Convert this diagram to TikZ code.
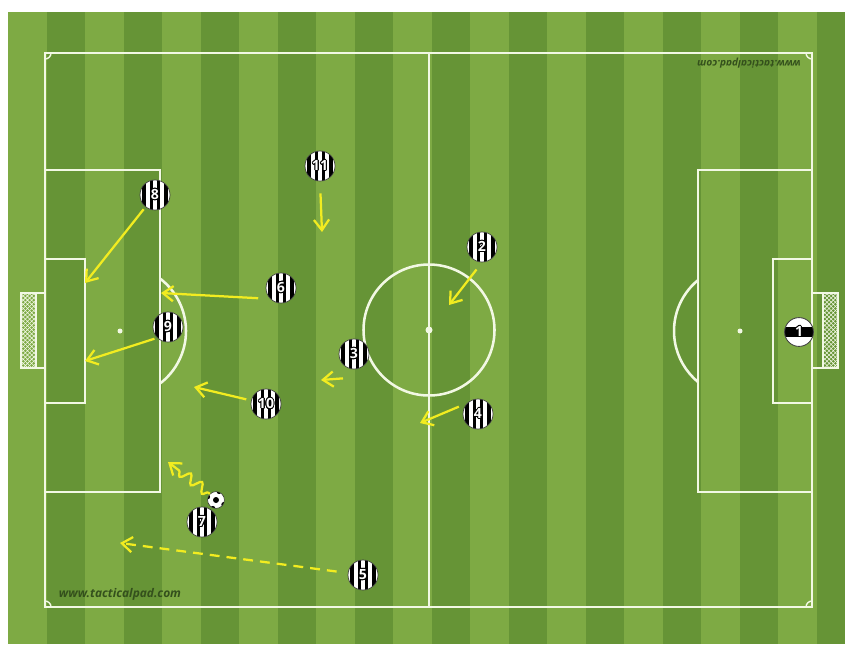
\documentclass[tikz,border=0pt]{standalone}
\usepackage{fontspec}
\setsansfont{Open Sans}
\usepackage{contour}
\usetikzlibrary{arrows.meta,calc,decorations.pathmorphing,patterns}
\definecolor{grasslight}{RGB}{126,170,68}
\definecolor{grassdark}{RGB}{102,148,54}
\definecolor{chalk}{RGB}{242,248,228}
\definecolor{runyellow}{RGB}{242,236,32}
\definecolor{wmgreen}{RGB}{52,80,28}
\contourlength{0.6pt}

\begin{document}
\begin{tikzpicture}[x=0.025cm, y=-0.025cm,
    line/.style={draw=chalk, line width=1.8pt},
    player/.style={circle, draw=black!75, line width=0.5pt, fill=white, minimum size=0.75cm, inner sep=0pt, text=white, font=\sffamily\bfseries\fontsize{10}{10}\selectfont,
        path picture={\foreach \k in {-3,-1,1,3} \fill[black] ($(path picture bounding box.center)+(\k*3.6-1.8,-20)$) rectangle ++(3.6,40);}},
    keeper/.style={circle, draw=black!75, line width=0.6pt, fill=white, minimum size=0.72cm, inner sep=0pt, text=white, font=\sffamily\bfseries\fontsize{10}{10}\selectfont,
        path picture={\fill[black] ($(path picture bounding box.center)+(-20,-5)$) rectangle ++(40,10);}},
    ball/.style={circle, draw=black!80, line width=0.4pt, fill=white, minimum size=0.42cm, inner sep=0pt,
        path picture={\fill[black] (path picture bounding box.center) circle[radius=3];
            \foreach \a in {30,110,200,290} \fill[black] ($(path picture bounding box.center)+(\a:9)$) circle[radius=2.5];}},
    run/.style={draw=runyellow, line width=1.6pt, -{Straight Barb[length=2.6mm,width=3.8mm]}},
    wmark/.style={text=wmgreen, inner sep=0pt},
]
\useasboundingbox (0,0) rectangle (845,644);

% Grass
\begin{scope}
\clip (8,12) rectangle (845,644);
\foreach \i in {0,...,21} {
    \ifodd\i \def\stripe{grassdark}\else\def\stripe{grasslight}\fi
    \fill[\stripe] (8+\i*38.5,12) rectangle ++(38.5,632);
}
\end{scope}

% Pitch markings
\draw[line] (45,53) rectangle (812,607);
\draw[line] (429,53) -- (429,607);
\draw[line] (429,330) circle[radius=65.5];
\fill[chalk] (429,330) circle[radius=3.5];
\draw[line] (45,170) rectangle (160,492);
\draw[line] (45,259) rectangle (85,403);
\fill[chalk] (120,331) circle[radius=2.5];
\draw[line] (160,278.5) arc[start angle=-52.7, end angle=52.7, radius=66];
\draw[line] (698,170) rectangle (812,492);
\draw[line] (773,259) rectangle (812,403);
\fill[chalk] (740,331) circle[radius=2.5];
\draw[line] (698,280.1) arc[start angle=230.5, end angle=129.5, radius=66];
\draw[chalk, line width=1pt] (51,53) arc[start angle=0, end angle=90, radius=6];
\draw[chalk, line width=1pt] (806,53) arc[start angle=180, end angle=90, radius=6];
\draw[chalk, line width=1pt] (45,601) arc[start angle=-90, end angle=0, radius=6];
\draw[chalk, line width=1pt] (806,607) arc[start angle=180, end angle=270, radius=6];

% Goals
\draw[chalk, line width=0.8pt, pattern=crosshatch, pattern color=chalk] (21,293) rectangle (36,368);
\draw[chalk, line width=1pt] (36,293) -- (45,293) (36,368) -- (45,368);
\draw[chalk, line width=0.8pt, pattern=crosshatch, pattern color=chalk] (823,293) rectangle (838,368);
\draw[chalk, line width=1pt] (812,293) -- (823,293) (812,368) -- (823,368);

% Watermarks
\node[wmark, font=\sffamily\bfseries\itshape\fontsize{8.5}{10}\selectfont] (wm1) at (120,594) {www.tacticalpad.com};
\node[wmark, rotate=180, font=\sffamily\bfseries\itshape\fontsize{7.2}{9}\selectfont] (wm2) at (749,63) {www.tacticalpad.com};

% Players
\node[keeper] (p1) at (799,332) {\contour{black}{1}};
\node[player] (p2) at (482,247) {\contour{black}{2}};
\node[player] (p3) at (354,354) {\contour{black}{3}};
\node[player] (p4) at (478,414) {\contour{black}{4}};
\node[player] (p5) at (363,575) {\contour{black}{5}};
\node[player] (p6) at (281,288) {\contour{black}{6}};
\node[player] (p7) at (202,522) {\contour{black}{7}};
\node[player] (p8) at (155,195) {\contour{black}{8}};
\node[player] (p9) at (168,327) {\contour{black}{9}};
\node[player] (p10) at (266,404) {\contour{black}{10}};
\node[player] (p11) at (320,166) {\contour{black}{11}};
\node[ball] (ball) at (216,500) {};

% Runs
\coordinate (t2) at (449,305);
\coordinate (t3) at (321,380);
\coordinate (t4) at (420,423);
\coordinate (t5) at (120,543);
\coordinate (t6) at (161,293);
\coordinate (t7) at (168,462);
\coordinate (t8) at (85,283);
\coordinate (t9) at (85,361);
\coordinate (t10) at (194,387);
\coordinate (t11) at (322,232);

\draw[run, shorten <=6.4pt] (p2.south) -- (t2);
\draw[run] ([shift={(-11,9)}]p3.south) -- (t3);
\draw[run, shorten <=6.4pt] (p4.north west) -- (t4);
\draw[run, shorten <=8pt, dash pattern=on 7pt off 5pt] (p5) -- (t5);
\draw[run, shorten <=8.5pt] (p6.south west) -- (t6);
\draw[run, decorate, decoration={snake, amplitude=1.2mm, segment length=3.5mm, pre length=0.5mm, post length=2.5mm}] (ball.north west) -- (t7);
\draw[run, shorten <=2pt] (p8) -- (t8);
\draw[run, shorten <=2pt] (p9.south west) -- (t9);
\draw[run, shorten <=3.5pt] (p10) -- (t10);
\draw[run, shorten <=8.5pt] (p11.south) -- (t11);
\end{tikzpicture}
\end{document}
